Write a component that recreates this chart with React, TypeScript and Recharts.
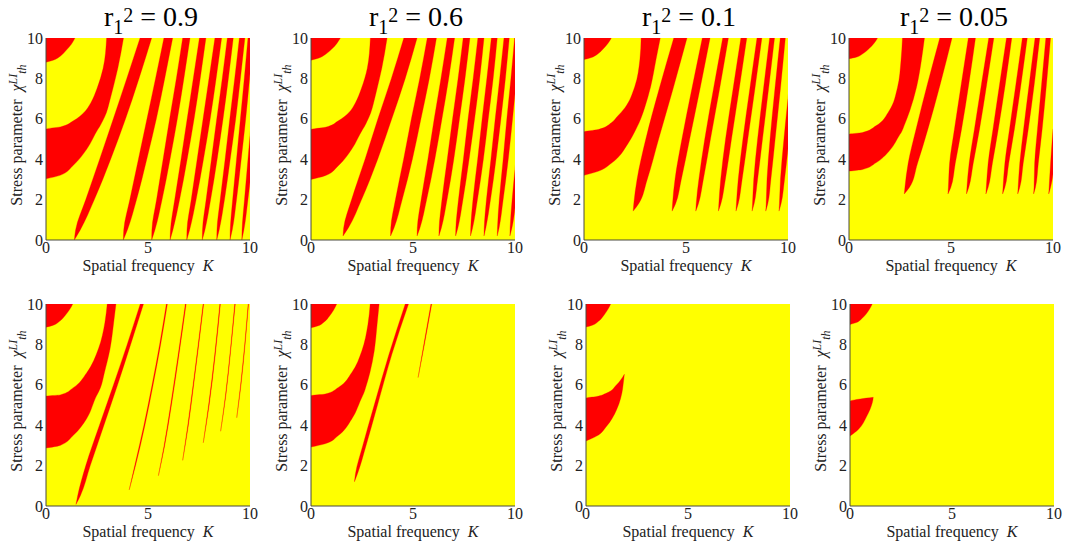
import React from 'react';
import { ComposedChart, Area, XAxis, YAxis, CartesianGrid } from 'recharts';

// Each row: [stress parameter (y), left K, right K] of a red (unstable) region
type Row = [number, number, number];

const X_TICKS = [0, 5, 10];
const Y_TICKS = [0, 2, 4, 6, 8, 10];
const R2_LABELS = ['0.9', '0.6', '0.1', '0.05'];

// ---------- top row, r1^2 = 0.9 ----------
const P1_CORNER: Row[] = [[8.8, 0, 0], [8.9, 0, 0.35], [9.1, 0, 0.7], [9.4, 0, 1.0], [9.7, 0, 1.25], [10, 0, 1.42]];
const P1_BAND: Row[] = [[3.03, 0, 0], [3.2, 0, 0.69], [3.7, 0, 1.34], [4.5, 0, 2.0], [5.49, 0, 2.55], [5.6, 0.7, 2.62], [5.9, 1.34, 2.78], [6.3, 1.85, 2.96], [6.8, 2.2, 3.1], [7.5, 2.5, 3.28], [8.5, 2.8, 3.52], [10, 2.97, 3.8]];
const P1_T1: Row[] = [[0, 1.39, 1.39], [0.5, 1.45, 1.68], [2, 1.95, 2.37], [4, 2.63, 3.17], [6, 3.3, 3.9], [8, 3.96, 4.56], [10, 4.61, 5.18]];
const P1_T2: Row[] = [[0, 3.79, 3.79], [0.5, 3.81, 3.99], [2, 4.11, 4.44], [4, 4.53, 4.94], [6, 4.95, 5.41], [8, 5.37, 5.82], [10, 5.78, 6.21]];
const P1_T3: Row[] = [[0, 5.18, 5.18], [0.5, 5.19, 5.34], [2, 5.42, 5.69], [4, 5.74, 6.08], [6, 6.06, 6.44], [8, 6.39, 6.76], [10, 6.7, 7.06]];
const P1_T4: Row[] = [[0, 6.08, 6.08], [0.5, 6.1, 6.22], [2, 6.31, 6.55], [4, 6.62, 6.92], [6, 6.92, 7.26], [8, 7.22, 7.56], [10, 7.52, 7.84]];
const P1_T5: Row[] = [[0, 6.9, 6.9], [0.5, 6.91, 7.04], [2, 7.12, 7.36], [4, 7.41, 7.72], [6, 7.7, 8.05], [8, 7.99, 8.34], [10, 8.28, 8.61]];
const P1_T6: Row[] = [[0, 7.66, 7.66], [0.5, 7.67, 7.79], [2, 7.85, 8.07], [4, 8.11, 8.39], [6, 8.37, 8.68], [8, 8.64, 8.94], [10, 8.89, 9.18]];
const P1_T7: Row[] = [[0, 8.37, 8.37], [0.5, 8.38, 8.49], [2, 8.54, 8.75], [4, 8.78, 9.03], [6, 9.01, 9.3], [8, 9.25, 9.53], [10, 9.48, 9.75]];
const P1_T8: Row[] = [[0, 9.02, 9.02], [0.5, 9.03, 9.13], [2, 9.15, 9.34], [4, 9.34, 9.57], [6, 9.53, 9.79], [8, 9.72, 9.98], [10, 9.9, 10.15]];
const P1_T9: Row[] = [[0, 9.6, 9.6], [0.5, 9.61, 9.7], [2, 9.73, 9.9], [4, 9.9, 10.12], [6, 10.07, 10.3]];

// ---------- top row, r1^2 = 0.6 ----------
const P2_CORNER: Row[] = [[8.9, 0, 0], [9.0, 0, 0.36], [9.2, 0, 0.72], [9.45, 0, 1.02], [9.72, 0, 1.26], [10, 0, 1.44]];
const P2_BAND: Row[] = [[3.0, 0, 0], [3.18, 0, 0.69], [3.68, 0, 1.34], [4.5, 0, 2.0], [5.47, 0, 2.53], [5.58, 0.7, 2.6], [5.9, 1.34, 2.76], [6.3, 1.85, 2.93], [6.8, 2.18, 3.07], [7.5, 2.47, 3.24], [8.5, 2.76, 3.47], [10, 2.91, 3.73]];
const P2_T1: Row[] = [[0.2, 1.57, 1.57], [0.6, 1.6, 1.83], [2, 1.99, 2.48], [4, 2.65, 3.27], [6, 3.28, 3.96], [8, 3.94, 4.62], [10, 4.55, 5.2]];
const P2_T2: Row[] = [[0.2, 3.9, 3.9], [0.6, 3.91, 4.07], [2, 4.14, 4.47], [4, 4.54, 4.97], [6, 4.92, 5.39], [8, 5.33, 5.8], [10, 5.7, 6.15]];
const P2_T3: Row[] = [[0.2, 5.2, 5.2], [0.6, 5.21, 5.34], [2, 5.4, 5.67], [4, 5.73, 6.07], [6, 6.04, 6.42], [8, 6.37, 6.75], [10, 6.68, 7.04]];
const P2_T4: Row[] = [[0.2, 6.27, 6.27], [0.6, 6.28, 6.39], [2, 6.42, 6.67], [4, 6.68, 7.0], [6, 6.94, 7.28], [8, 7.21, 7.55], [10, 7.46, 7.79]];
const P2_T5: Row[] = [[0.2, 7.09, 7.09], [0.6, 7.1, 7.2], [2, 7.23, 7.45], [4, 7.47, 7.75], [6, 7.7, 8.02], [8, 7.95, 8.27], [10, 8.18, 8.48]];
const P2_T6: Row[] = [[0.2, 7.82, 7.82], [0.6, 7.83, 7.92], [2, 7.94, 8.16], [4, 8.17, 8.45], [6, 8.39, 8.69], [8, 8.62, 8.93], [10, 8.84, 9.13]];
const P2_T7: Row[] = [[0.2, 8.48, 8.48], [0.6, 8.49, 8.57], [2, 8.6, 8.8], [4, 8.82, 9.07], [6, 9.03, 9.31], [8, 9.25, 9.53], [10, 9.46, 9.72]];
const P2_T8: Row[] = [[0.2, 9.13, 9.13], [0.6, 9.14, 9.22], [2, 9.23, 9.42], [4, 9.42, 9.67], [6, 9.6, 9.88], [8, 9.8, 10.07], [10, 9.98, 10.24]];
const P2_T9: Row[] = [[0.2, 9.75, 9.75], [0.6, 9.76, 9.85], [2, 9.86, 10.05], [4, 10.05, 10.3]];

// ---------- top row, r1^2 = 0.1 ----------
const P3_CORNER: Row[] = [[8.93, 0, 0], [9.02, 0, 0.33], [9.2, 0, 0.66], [9.47, 0, 0.95], [9.74, 0, 1.18], [10, 0, 1.34]];
const P3_BAND: Row[] = [[3.2, 0, 0], [3.4, 0, 0.69], [3.8, 0, 1.34], [4.78, 0, 2.16], [5.35, 0, 2.48], [5.47, 0.69, 2.54], [5.8, 1.34, 2.7], [6.1, 1.62, 2.82], [6.54, 2.0, 2.97], [7.6, 2.49, 3.27], [8.93, 2.74, 3.53], [10, 2.8, 3.74]];
const P3_T1: Row[] = [[1.43, 2.41, 2.41], [1.8, 2.44, 2.68], [3, 2.6, 3.1], [5, 3.03, 3.66], [7.5, 3.69, 4.37], [10, 4.4, 5.05]];
const P3_T2: Row[] = [[1.43, 4.32, 4.32], [1.8, 4.34, 4.49], [3, 4.46, 4.77], [5, 4.8, 5.18], [7.5, 5.29, 5.69], [10, 5.8, 6.18]];
const P3_T3: Row[] = [[1.43, 5.48, 5.48], [1.8, 5.5, 5.61], [3, 5.63, 5.85], [5, 5.92, 6.2], [7.5, 6.35, 6.65], [10, 6.8, 7.08]];
const P3_T4: Row[] = [[1.43, 6.59, 6.59], [1.8, 6.61, 6.71], [3, 6.7, 6.93], [5, 6.94, 7.23], [7.5, 7.31, 7.61], [10, 7.69, 7.98]];
const P3_T5: Row[] = [[1.43, 7.45, 7.45], [1.8, 7.47, 7.56], [3, 7.56, 7.75], [5, 7.79, 8.03], [7.5, 8.13, 8.38], [10, 8.48, 8.72]];
const P3_T6: Row[] = [[1.43, 8.24, 8.24], [1.8, 8.26, 8.34], [3, 8.32, 8.51], [5, 8.51, 8.75], [7.5, 8.8, 9.05], [10, 9.1, 9.34]];
const P3_T7: Row[] = [[1.43, 8.91, 8.91], [1.8, 8.93, 9.01], [3, 8.97, 9.16], [5, 9.12, 9.37], [7.5, 9.36, 9.63], [10, 9.62, 9.87]];
const P3_T8: Row[] = [[1.43, 9.56, 9.56], [1.8, 9.58, 9.66], [3, 9.63, 9.83], [5, 9.8, 10.05], [7.5, 10.05, 10.3]];

// ---------- top row, r1^2 = 0.05 ----------
const P4_CORNER: Row[] = [[8.97, 0, 0], [9.05, 0, 0.35], [9.23, 0, 0.69], [9.48, 0, 0.99], [9.74, 0, 1.23], [10, 0, 1.4]];
const P4_BAND: Row[] = [[3.41, 0, 0], [3.49, 0, 0.66], [3.82, 0, 1.32], [4.4, 0, 1.97], [5.23, 0, 2.5], [5.32, 0.66, 2.56], [5.65, 1.32, 2.7], [6.4, 1.97, 2.98], [7.56, 2.38, 3.31], [8.9, 2.55, 3.55], [10, 2.62, 3.7]];
const P4_T1: Row[] = [[2.28, 2.71, 2.71], [2.6, 2.74, 2.96], [3.8, 2.9, 3.36], [5.5, 3.29, 3.87], [7.7, 3.84, 4.47], [10, 4.45, 5.05]];
const P4_T2: Row[] = [[2.28, 4.85, 4.85], [2.6, 4.87, 4.99], [3.8, 4.93, 5.21], [5.5, 5.17, 5.52], [7.7, 5.5, 5.87], [10, 5.85, 6.2]];
const P4_T3: Row[] = [[2.28, 5.76, 5.76], [2.6, 5.78, 5.87], [3.8, 5.89, 6.09], [5.5, 6.15, 6.4], [7.7, 6.49, 6.75], [10, 6.85, 7.1]];
const P4_T4: Row[] = [[2.28, 6.71, 6.71], [2.6, 6.73, 6.82], [3.8, 6.82, 7.03], [5.5, 7.06, 7.32], [7.7, 7.38, 7.66], [10, 7.72, 7.98]];
const P4_T5: Row[] = [[2.28, 7.53, 7.53], [2.6, 7.55, 7.64], [3.8, 7.64, 7.83], [5.5, 7.87, 8.11], [7.7, 8.18, 8.43], [10, 8.5, 8.74]];
const P4_T6: Row[] = [[2.28, 8.27, 8.27], [2.6, 8.29, 8.37], [3.8, 8.37, 8.54], [5.5, 8.56, 8.79], [7.7, 8.83, 9.08], [10, 9.12, 9.35]];
const P4_T7: Row[] = [[2.28, 9.05, 9.05], [2.6, 9.07, 9.14], [3.8, 9.1, 9.28], [5.5, 9.24, 9.47], [7.7, 9.44, 9.68], [10, 9.65, 9.88]];
const P4_T8: Row[] = [[2.28, 9.79, 9.79], [2.6, 9.81, 9.88], [3.8, 9.88, 10.07], [5.5, 10.0, 10.25]];

// ---------- bottom row, r1^2 = 0.9 ----------
const P5_CORNER: Row[] = [[8.85, 0, 0], [8.94, 0, 0.33], [9.13, 0, 0.65], [9.43, 0, 0.94], [9.71, 0, 1.15], [10, 0, 1.31]];
const P5_BAND: Row[] = [[2.87, 0, 0], [3.0, 0, 0.69], [3.5, 0, 1.34], [4.32, 0, 1.99], [5.44, 0, 2.47], [5.5, 0.69, 2.5], [5.86, 1.34, 2.67], [6.59, 1.99, 2.86], [7.78, 2.57, 3.14], [9.1, 2.89, 3.32], [10, 3.0, 3.43]];
const P5_T1: Row[] = [[0.08, 1.47, 1.47], [0.5, 1.55, 1.68], [2, 1.95, 2.17], [4, 2.62, 2.84], [6, 3.31, 3.51], [8, 3.98, 4.15], [10, 4.62, 4.78]];
const P5_T2: Row[] = [[0.8, 4.08, 4.08], [2, 4.35, 4.39], [4, 4.8, 4.85], [6, 5.2, 5.25], [8, 5.57, 5.62], [10, 5.9, 5.95]];
const P5_T3: Row[] = [[1.5, 5.51, 5.51], [3, 5.79, 5.82], [5, 6.11, 6.15], [7.5, 6.48, 6.52], [10, 6.83, 6.87]];
const P5_T4: Row[] = [[2.26, 6.7, 6.7], [4, 6.95, 6.98], [6, 7.21, 7.24], [8, 7.46, 7.49], [10, 7.7, 7.73]];
const P5_T5: Row[] = [[3.13, 7.71, 7.71], [5, 7.97, 8.0], [7.5, 8.27, 8.3], [10, 8.52, 8.55]];
const P5_T6: Row[] = [[3.7, 8.56, 8.56], [5.5, 8.8, 8.82], [7.75, 9.04, 9.06], [10, 9.25, 9.28]];
const P5_T7: Row[] = [[4.37, 9.35, 9.35], [6, 9.54, 9.56], [8, 9.74, 9.76], [10, 9.91, 9.93]];

// ---------- bottom row, r1^2 = 0.6 ----------
const P6_CORNER: Row[] = [[8.82, 0, 0], [8.91, 0, 0.32], [9.1, 0, 0.63], [9.41, 0, 0.91], [9.7, 0, 1.11], [10, 0, 1.26]];
const P6_BAND: Row[] = [[2.92, 0, 0], [3.08, 0, 0.69], [3.49, 0, 1.34], [4.31, 0, 2.0], [5.46, 0, 2.53], [5.54, 0.69, 2.57], [5.87, 1.34, 2.68], [6.61, 2.0, 2.89], [7.67, 2.49, 3.1], [8.98, 2.79, 3.24], [10, 2.9, 3.34]];
const P6_T1: Row[] = [[1.2, 2.13, 2.13], [1.6, 2.18, 2.28], [3, 2.54, 2.7], [5, 3.1, 3.26], [7.5, 3.82, 3.96], [10, 4.62, 4.78]];
const P6_T2: Row[] = [[6.36, 5.25, 5.25], [8, 5.53, 5.56], [10, 5.88, 5.92]];

// ---------- bottom row, r1^2 = 0.1 ----------
const P7_CORNER: Row[] = [[8.86, 0, 0], [8.95, 0, 0.31], [9.14, 0, 0.61], [9.43, 0, 0.87], [9.71, 0, 1.06], [10, 0, 1.21]];
const P7_BUMP: Row[] = [[3.22, 0, 0], [3.46, 0, 0.52], [3.95, 0, 1.01], [4.77, 0, 1.5], [5.34, 0, 1.7], [5.42, 0.52, 1.72], [5.59, 1.01, 1.76], [6.0, 1.5, 1.82], [6.52, 1.88, 1.88]];

// ---------- bottom row, r1^2 = 0.05 ----------
const P8_CORNER: Row[] = [[8.99, 0, 0], [9.07, 0, 0.28], [9.25, 0, 0.55], [9.5, 0, 0.79], [9.75, 0, 0.96], [10, 0, 1.09]];
const P8_BUMP: Row[] = [[3.46, 0, 0], [3.79, 0, 0.41], [4.44, 0, 0.82], [5.1, 0, 1.09], [5.18, 0, 1.11], [5.3, 0.5, 1.13], [5.38, 1.14, 1.14]];

const PANEL_REGIONS: Row[][][] = [
  [P1_CORNER, P1_BAND, P1_T1, P1_T2, P1_T3, P1_T4, P1_T5, P1_T6, P1_T7, P1_T8, P1_T9],
  [P2_CORNER, P2_BAND, P2_T1, P2_T2, P2_T3, P2_T4, P2_T5, P2_T6, P2_T7, P2_T8, P2_T9],
  [P3_CORNER, P3_BAND, P3_T1, P3_T2, P3_T3, P3_T4, P3_T5, P3_T6, P3_T7, P3_T8],
  [P4_CORNER, P4_BAND, P4_T1, P4_T2, P4_T3, P4_T4, P4_T5, P4_T6, P4_T7, P4_T8],
  [P5_CORNER, P5_BAND, P5_T1, P5_T2, P5_T3, P5_T4, P5_T5, P5_T6, P5_T7],
  [P6_CORNER, P6_BAND, P6_T1, P6_T2],
  [P7_CORNER, P7_BUMP],
  [P8_CORNER, P8_BUMP],
];

// layout (page pixels of each plot box's top-left corner)
const PLOT_LEFTS = [46, 311, 584, 849, 46, 311, 586, 850];
const PLOT_TOPS = [38, 38, 38, 38, 304, 304, 304, 304];

const FONT = 'Liberation Serif, DejaVu Serif, serif';
const RED = '#ff0000';
const YELLOW = '#ffff00';
const FRAME = '#4a4a3e';
const PW = 204;
const PH = 202;
const ML = 50;
const MT = 10;
const XH = 42;

const toData = (rows: Row[]) => rows.map(([y, l, r]) => ({ y, v: [l, r] }));

function YTitle() {
  const x = ML - 24;
  const y = MT + PH / 2 - 4;
  return (
    <text transform={`translate(${x},${y}) rotate(-90)`} textAnchor="middle" fontSize={16} style={{ fontFamily: FONT }} fill="#222">
      Stress parameter{'\u00a0\u00a0'}
      <tspan fontStyle="italic">χ</tspan>
      <tspan fontStyle="italic" fontSize={12} dy={-5}>LI</tspan>
      <tspan fontStyle="italic" fontSize={12} dy={9}>th</tspan>
    </text>
  );
}

function XTitle() {
  return (
    <text x={ML + PW / 2} y={MT + PH + 31} textAnchor="middle" fontSize={16} style={{ fontFamily: FONT }} fill="#222">
      Spatial frequency{'\u00a0\u00a0'}
      <tspan fontStyle="italic">K</tspan>
    </text>
  );
}

const TICK_STYLE = { fontSize: 16, fill: '#222', style: { fontFamily: FONT } };

function Panel({ index }: { index: number }) {
  const regions = PANEL_REGIONS[index];
  return (
    <div style={{ position: 'absolute', left: PLOT_LEFTS[index] - ML, top: PLOT_TOPS[index] - MT }}>
      <ComposedChart
        layout="vertical"
        width={ML + PW + 10}
        height={MT + PH + XH}
        margin={{ top: MT, right: 10, bottom: 0, left: 0 }}
        style={{ fontFamily: FONT }}
      >
        <CartesianGrid fill={YELLOW} fillOpacity={1} horizontal={false} vertical={false} />
        <XAxis
          type="number"
          domain={[0, 10]}
          ticks={X_TICKS}
          interval={0}
          allowDataOverflow
          height={XH}
          tickLine={false}
          axisLine={{ stroke: FRAME }}
          tickSize={0}
          tickMargin={2}
          tick={TICK_STYLE}
          label={<XTitle />}
        />
        <XAxis
          xAxisId="top"
          orientation="top"
          type="number"
          domain={[0, 10]}
          height={0}
          tick={false}
          tickLine={false}
          axisLine={{ stroke: FRAME }}
        />
        <YAxis
          type="number"
          dataKey="y"
          domain={[0, 10]}
          reversed
          ticks={Y_TICKS}
          interval={0}
          allowDataOverflow
          width={ML}
          tickLine={false}
          axisLine={{ stroke: FRAME }}
          tickSize={0}
          tickMargin={3}
          tick={TICK_STYLE}
          label={<YTitle />}
        />
        <YAxis
          yAxisId="right"
          orientation="right"
          type="number"
          dataKey="y"
          domain={[0, 10]}
          reversed
          width={0}
          tick={false}
          tickLine={false}
          axisLine={{ stroke: FRAME }}
        />
        {regions.map((rows, i) => (
          <Area
            key={i}
            data={toData(rows)}
            dataKey="v"
            type="monotone"
            fill={RED}
            fillOpacity={1}
            stroke={RED}
            strokeWidth={0.3}
            dot={false}
            activeDot={false}
            isAnimationActive={false}
          />
        ))}
      </ComposedChart>
    </div>
  );
}

export default function App() {
  return (
    <div style={{ position: 'absolute', left: 0, top: 0, width: 1065, height: 548, background: '#fff', overflow: 'hidden' }}>
      <svg width={1065} height={548} style={{ position: 'absolute', left: 0, top: 0 }}>
        {R2_LABELS.map((lab, i) => (
          <text key={i} x={PLOT_LEFTS[i] + PW / 2 + 3} y={26} textAnchor="middle" fontSize={28} style={{ fontFamily: FONT }} fill="#000">
            r
            <tspan fontSize={20} dy={8}>1</tspan>
            <tspan fontSize={20} dy={-12}>2</tspan>
            <tspan dy={4}>{' = ' + lab}</tspan>
          </text>
        ))}
      </svg>
      {PANEL_REGIONS.map((_, i) => (
        <Panel key={i} index={i} />
      ))}
    </div>
  );
}
